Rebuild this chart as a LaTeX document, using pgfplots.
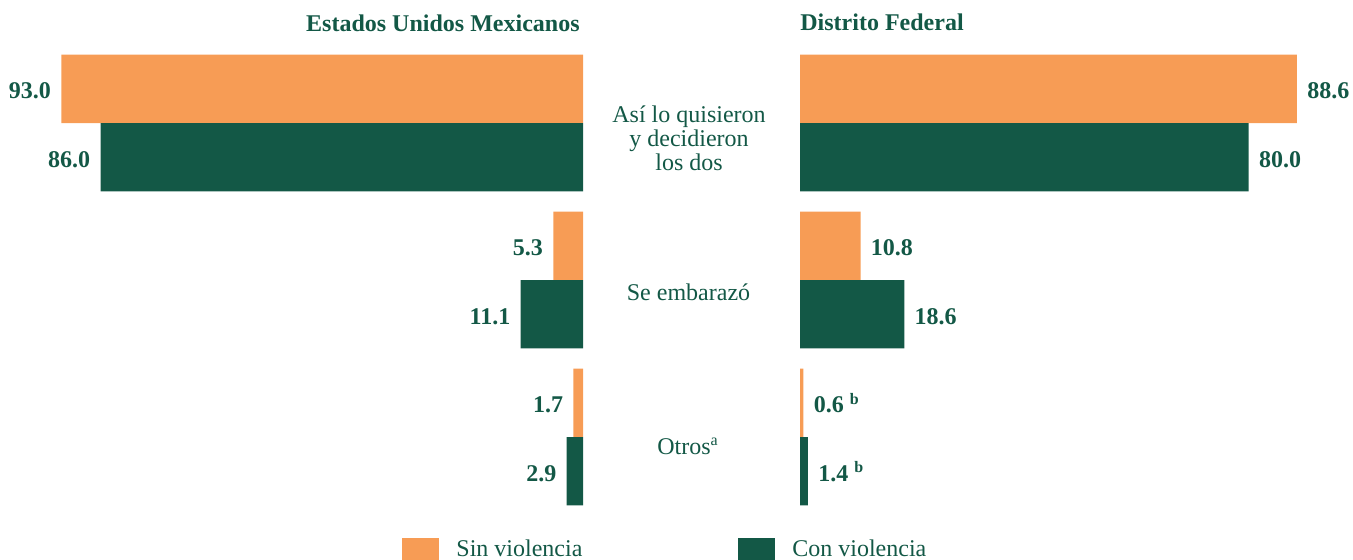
\documentclass[border=0pt]{standalone}
\usepackage{fontspec}
\setmainfont{Liberation Serif}
\usepackage{pgfplots}
\pgfplotsset{compat=1.18}
\definecolor{corange}{HTML}{F79C55}
\definecolor{cgreen}{HTML}{135846}
\newcommand\fs{\fontsize{12pt}{12pt}\selectfont}
\begin{document}
\begin{tikzpicture}
\clip (0,0) rectangle (676.5pt,279.5pt);
\pgfplotsset{
  panel/.style={
    xbar, scale only axis, height=235.5pt, xmin=0, ymin=-0.5, ymax=2.5, y dir=reverse,
    axis lines=none, xtick=\empty, ytick=\empty, clip=false,
    bar width=0.436, point meta=explicit symbolic, nodes near coords,
    every node near coord/.append style={font=\fs\bfseries, text=cgreen, inner sep=0pt},
  }
}
% left panel: Estados Unidos Mexicanos
\begin{axis}[panel, at={(291.5pt,257.25pt)}, anchor=north east, width=280.5pt, xmax=100, x dir=reverse,
   every node near coord/.append style={anchor=base east, xshift=-5pt, yshift=-5pt}]
\addplot[fill=corange, draw=none, bar shift=-0.218] coordinates {(93.0,0)[93.0] (5.3,1)[5.3] (1.7,2)[1.7]};
\addplot[fill=cgreen, draw=none, bar shift=0.218] coordinates {(86.0,0)[86.0] (11.1,1)[11.1] (2.9,2)[2.9]};
\end{axis}
% right panel: Distrito Federal
\begin{axis}[panel, at={(400pt,257.25pt)}, anchor=north west, width=272pt, xmax=97,
   every node near coord/.append style={anchor=base west, xshift=5pt, yshift=-5pt},
   legend columns=2,
   legend style={at={(axis description cs:-0.7316,-0.0732)}, anchor=west, draw=none, fill=none,
     inner sep=0pt, font=\fs, nodes={text=cgreen},
     /tikz/every odd column/.append style={column sep=6.5pt},
     /tikz/every even column/.append style={column sep=76pt}}]
\addplot[fill=corange, draw=none, bar shift=-0.218,
  legend image code/.code={\fill[corange] (0pt,-6pt) rectangle (18.5pt,6pt);}]
  coordinates {(88.6,0)[88.6] (10.8,1)[10.8] (0.6,2)[{0.6 \textsuperscript{b}}]};
\addlegendentry{Sin violencia}
\addplot[fill=cgreen, draw=none, bar shift=0.218,
  legend image code/.code={\fill[cgreen] (0pt,-6pt) rectangle (18.5pt,6pt);}]
  coordinates {(80.0,0)[80.0] (18.6,1)[18.6] (1.4,2)[{1.4 \textsuperscript{b}}]};
\addlegendentry{Con violencia}
\end{axis}
% titles
\node[anchor=base east, inner sep=0pt, font=\fs\bfseries, text=cgreen] at (290pt,264pt) {Estados Unidos Mexicanos};
\node[anchor=base west, inner sep=0pt, font=\fs\bfseries, text=cgreen] at (400pt,264.5pt) {Distrito Federal};
% category labels
\begin{scope}[every node/.style={anchor=base, inner sep=0pt, font=\fs, text=cgreen}]
\node at (344.5pt,218.15pt) {Así lo quisieron};
\node at (344.5pt,206.15pt) {y decidieron};
\node at (344.5pt,194.5pt) {los dos};
\node at (344.25pt,129.5pt) {Se embarazó};
\node at (344pt,52.5pt) {Otros\textsuperscript{a}};
\end{scope}
\end{tikzpicture}
\end{document}
